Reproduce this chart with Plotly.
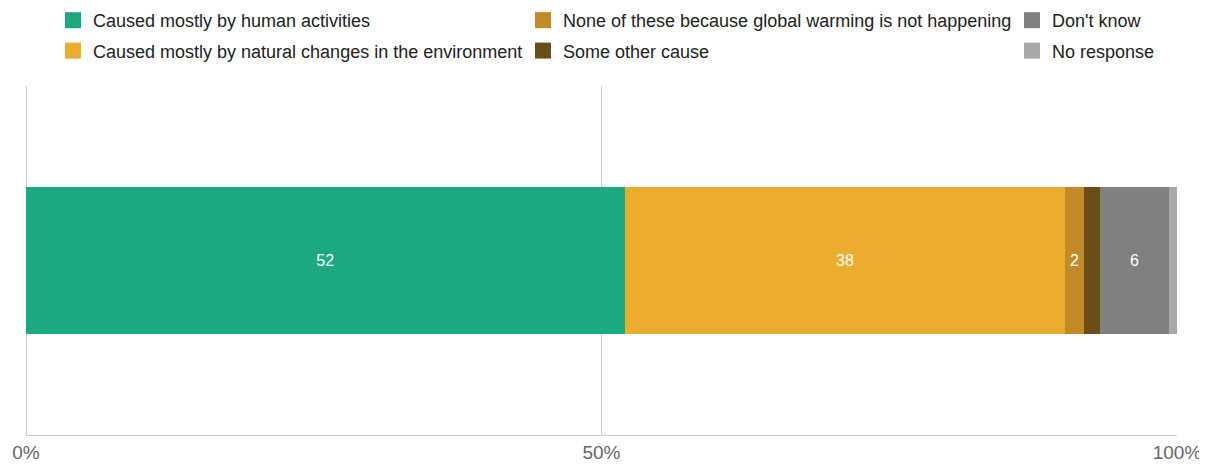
import plotly.graph_objects as go

categories = ["All"]
series_names = [
    "Caused mostly by human activities",
    "Caused mostly by natural changes in the environment",
    "None of these because global warming is not happening",
    "Some other cause",
    "Don't know",
    "No response",
]
series_values = [52.0, 38.3, 1.6, 1.4, 6.0, 0.7]
series_labels = ["52", "38", "2", "", "6", ""]
series_colors = ["#1ca883", "#edad2c", "#c38b27", "#6b4d17", "#808080", "#a8a8a8"]
legend_groups = ["legend", "legend", "legend2", "legend2", "legend3", "legend3"]
tick_vals = [0, 50, 100]
tick_text = ["0%", "50%", "100%"]

FONT = "Liberation Sans, Arial, sans-serif"

fig = go.Figure()
for name, val, lab, col in zip(series_names, series_values, series_labels, series_colors):
    fig.add_trace(go.Bar(
        y=categories, x=[val], orientation="h", name=name,
        marker=dict(color=col, line=dict(width=0)),
        text=[lab], textposition="inside", insidetextanchor="middle",
        textfont=dict(color="white", size=16, family=FONT),
        showlegend=False, hoverinfo="skip",
    ))

# legend entries (square swatches) on a hidden helper axis
for i, (name, col, lg) in enumerate(zip(series_names, series_colors, legend_groups)):
    fig.add_trace(go.Scatter(
        x=[0], y=[0], mode="markers", name=name,
        marker=dict(symbol="square", size=16, color=col),
        legend=lg, legendgroup=f"g{i}", showlegend=True,
        xaxis="x2", yaxis="y2", hoverinfo="skip",
    ))

# page has an 8px body margin; the figure is sized to fill the rest
W, H = 1199, 456
L, R, T, B = 18, 30, 78, 29
pw, ph = W - L - R, H - T - B


def px_x(x):
    return (x - L) / pw


def px_y(y):
    return (H - B - y) / ph


legend_common = dict(
    orientation="v", yanchor="top", y=px_y(-6), yref="paper", xref="paper",
    xanchor="left", font=dict(size=18, family=FONT, color="#222"),
    tracegroupgap=4, itemwidth=30, bgcolor="rgba(0,0,0,0)",
    traceorder="grouped", itemclick=False, itemdoubleclick=False,
)

fig.update_layout(
    width=W, height=H,
    barmode="stack", bargap=0.58,
    plot_bgcolor="white", paper_bgcolor="white",
    margin=dict(l=L, r=R, t=T, b=B, autoexpand=False),
    font=dict(family=FONT),
    legend=dict(legend_common, x=px_x(45)),
    legend2=dict(legend_common, x=px_x(515)),
    legend3=dict(legend_common, x=px_x(1004)),
    xaxis=dict(
        range=[0, 100], tickvals=tick_vals, ticktext=tick_text,
        showgrid=True, gridcolor="#cccccc", gridwidth=1,
        zeroline=True, zerolinecolor="#cccccc", zerolinewidth=1,
        showline=True, linecolor="#cccccc", linewidth=1,
        tickfont=dict(size=19, color="#666666", family=FONT),
        ticks="", fixedrange=True,
    ),
    yaxis=dict(showticklabels=False, showgrid=False, zeroline=False, fixedrange=True),
    xaxis2=dict(visible=False, overlaying="x", range=[1, 2], fixedrange=True),
    yaxis2=dict(visible=False, overlaying="y", range=[1, 2], fixedrange=True),
)

fig.write_html("out.html")
